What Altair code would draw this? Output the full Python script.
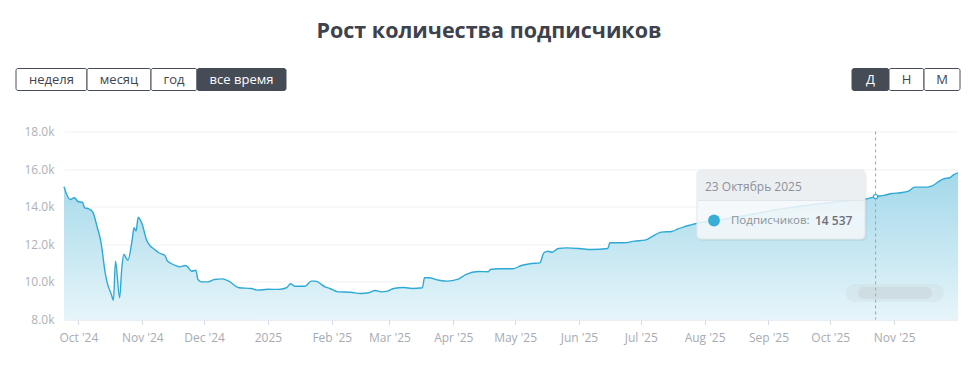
import altair as alt
import pandas as pd

# ---------------- data ----------------
dates = ["2024-09-24","2024-09-27","2024-09-29","2024-10-01","2024-10-03","2024-10-04","2024-10-06","2024-10-08",
         "2024-10-10","2024-10-12","2024-10-14","2024-10-15","2024-10-17","2024-10-18","2024-10-19","2024-10-21",
         "2024-10-22","2024-10-23","2024-10-25","2024-10-27","2024-10-28","2024-10-29","2024-10-30","2024-11-01",
         "2024-11-03","2024-11-04","2024-11-07","2024-11-09","2024-11-12","2024-11-13","2024-11-15","2024-11-18",
         "2024-11-19","2024-11-22","2024-11-23","2024-11-25","2024-11-27","2024-11-28","2024-11-30","2024-12-03",
         "2024-12-06","2024-12-10","2024-12-13","2024-12-18","2024-12-24","2024-12-27","2025-01-01","2025-01-06",
         "2025-01-10","2025-01-12","2025-01-14","2025-01-19","2025-01-22","2025-01-24","2025-01-29","2025-01-31",
         "2025-02-04","2025-02-10","2025-02-15","2025-02-19","2025-02-22","2025-02-25","2025-02-28","2025-03-03",
         "2025-03-08","2025-03-12","2025-03-17","2025-03-18","2025-03-20","2025-03-25","2025-03-29","2025-04-03",
         "2025-04-07","2025-04-13","2025-04-18","2025-04-19","2025-04-23","2025-04-30","2025-05-04","2025-05-09",
         "2025-05-13","2025-05-15","2025-05-17","2025-05-19","2025-05-22","2025-05-26","2025-06-01","2025-06-07",
         "2025-06-15","2025-06-16","2025-06-23","2025-06-28","2025-07-03","2025-07-06","2025-07-11","2025-07-16",
         "2025-07-19","2025-07-22","2025-07-26","2025-07-29","2025-08-03","2025-08-10","2025-08-20","2025-08-28",
         "2025-09-05","2025-09-12","2025-09-20","2025-09-28","2025-10-05","2025-10-12","2025-10-18","2025-10-23",
         "2025-10-27","2025-10-31","2025-11-04","2025-11-08","2025-11-11","2025-11-17","2025-11-19","2025-11-23",
         "2025-11-25","2025-11-28","2025-11-30","2025-12-02"]
subscribers = [15060,14380,14480,14260,14240,13940,13890,13710,
               12960,12080,10480,9950,9330,9030,11100,9150,
               10660,11460,11150,12170,12880,12700,13440,13050,
               12260,12040,11720,11550,11400,11150,10980,10840,
               10800,10870,10800,10570,10620,10130,10000,10000,
               10130,10160,10040,9690,9650,9560,9610,9600,
               9690,9900,9770,9770,10040,10040,9720,9650,
               9470,9450,9380,9420,9540,9470,9510,9650,
               9700,9650,9690,10220,10220,10090,10040,10130,
               10390,10550,10540,10660,10700,10700,10870,10980,
               11010,11550,11630,11580,11780,11810,11780,11720,
               11780,12080,12080,12170,12220,12380,12650,12680,
               12820,12930,13050,13140,13230,13330,13520,13680,
               13850,13950,14080,14180,14260,14340,14400,14537,
               14600,14700,14740,14830,15040,15040,15090,15360,
               15480,15540,15710,15800]

y_tick_values = [8000, 10000, 12000, 14000, 16000, 18000]
y_tick_labels = ["8.0k", "10.0k", "12.0k", "14.0k", "16.0k", "18.0k"]
x_tick_months = ["2024-10","2024-11","2024-12","2025-01","2025-02","2025-03","2025-04",
                 "2025-05","2025-06","2025-07","2025-08","2025-09","2025-10","2025-11"]
x_tick_labels = ["Oct '24","Nov '24","Dec '24","2025","Feb '25","Mar '25","Apr '25",
                 "May '25","Jun '25","Jul '25","Aug '25","Sep '25","Oct '25","Nov '25"]

title_text = "Рост количества подписчиков"
period_buttons = ["неделя", "месяц", "год", "все время"]
active_period = "все время"
scale_buttons = ["Д", "Н", "М"]
active_scale = "Д"

hover_date = "2025-10-23"
hover_value = 14537
tooltip_title = "23 Октябрь 2025"
tooltip_series = "Подписчиков:"
tooltip_value = "14 537"

x_domain = [(2024, 9, 24), (2025, 12, 2)]

# ---------------- layout ----------------
W, H = 894, 188
PAD = {"left": 56, "top": 123.5, "right": 7, "bottom": 40}
OX, OY = 8 + PAD["left"], 8 + PAD["top"]   # plot origin on the page

FONT = "Open Sans"
LINE_COLOR = "#2ea9d4"

df = pd.DataFrame({"date": dates, "subs": subscribers})
hover_df = pd.DataFrame({"date": [hover_date], "subs": [hover_value]})
one = pd.DataFrame({"k": [0]})

x_label_expr = "''"
for m, lab in reversed(list(zip(x_tick_months, x_tick_labels))):
    x_label_expr = f"utcFormat(datum.value, '%Y-%m') == '{m}' ? \"{lab}\" : " + x_label_expr
y_label_expr = "''"
for v, lab in reversed(list(zip(y_tick_values, y_tick_labels))):
    y_label_expr = f"datum.value == {v} ? '{lab}' : " + y_label_expr

x_values = [alt.DateTime(year=int(m[:4]), month=int(m[5:]), date=1, utc=True) for m in x_tick_months]
x_scale = alt.Scale(type="utc", domain=[alt.DateTime(year=a, month=b, date=c, utc=True) for a, b, c in x_domain])
y_scale = alt.Scale(domain=[y_tick_values[0], y_tick_values[-1]], nice=False, zero=False)

x_enc = alt.X("date:T", scale=x_scale, title=None,
              axis=alt.Axis(values=x_values, tickCount=len(x_values) + 2, labelExpr=x_label_expr,
                            grid=False, domainColor="#dfe8ee", tickColor="#d3dce6", tickSize=5,
                            labelColor="#a7abb2", labelFontSize=12, labelFont=FONT,
                            labelPadding=8, labelFlush=False, labelOverlap=False))
y_enc = alt.Y("subs:Q", scale=y_scale, title=None,
              axis=alt.Axis(values=y_tick_values, tickCount=len(y_tick_values) + 2,
                            labelExpr=y_label_expr, domain=False, ticks=False,
                            gridColor="#f1f1f1", labelColor="#aeb2b8", labelFontSize=12,
                            labelFont=FONT, labelPadding=10, labelOverlap=False))

gradient = alt.Gradient(gradient="linear",
                        stops=[alt.GradientStop(color="#e6f5fa", offset=0),
                               alt.GradientStop(color="#a3d8ea", offset=1)],
                        x1=1, x2=1, y1=1, y2=0)

area = alt.Chart(df).mark_area(interpolate="monotone", color=gradient).encode(
    x=x_enc, y=y_enc, y2=alt.datum(y_tick_values[0]))
line = alt.Chart(df).mark_line(interpolate="monotone", color=LINE_COLOR, strokeWidth=1.4).encode(
    x="date:T", y="subs:Q")

crosshair = alt.Chart(hover_df).mark_rule(color="#9da3a8", strokeDash=[3, 3], strokeWidth=1).encode(
    x="date:T", y=alt.value(0), y2=alt.value(H))
hover_pt = alt.Chart(hover_df).mark_point(filled=True, fill="white", stroke=LINE_COLOR, strokeWidth=1.2,
                                          size=18, opacity=1).encode(x="date:T", y="subs:Q")

layers = [area, line, crosshair, hover_pt]


def rect(x0, x1, y0, y1, **kw):
    return alt.Chart(one).mark_rect(**kw).encode(
        x=alt.value(x0 - OX), x2=alt.value(x1 - OX), y=alt.value(y0 - OY), y2=alt.value(y1 - OY))


def text(s, x, y, **kw):
    return alt.Chart(one).mark_text(**kw).encode(
        x=alt.value(x - OX), y=alt.value(y - OY), text=alt.value(s))


# blurred watermark
layers.append(rect(846, 944, 284, 302, color="#c4c6c8", opacity=0.18, cornerRadius=9))
layers.append(rect(858, 932, 287, 299, color="#b5b7b9", opacity=0.22, cornerRadius=6))

# tooltip
TX0, TX1, TY0, TYM, TY1 = 697, 865, 170, 201, 239
layers.append(rect(TX0 + 1, TX1 + 2, TY0 + 2, TY1 + 2, color="#000000", opacity=0.04, cornerRadius=4))
layers.append(rect(TX0, TX1, TY0, TY1, fill="#f6f9fb", fillOpacity=0.86, stroke="#e1e5e8",
                   strokeWidth=1, cornerRadius=4))
layers.append(rect(TX0 + 0.5, TX1 - 0.5, TY0 + 0.5, TYM, fill="#eceff2", cornerRadius=3))
layers.append(rect(TX0 + 0.5, TX1 - 0.5, TYM - 1, TYM, fill="#e2e6ea"))
layers.append(text(tooltip_title, TX0 + 8, 186.5, align="left", baseline="middle", font=FONT,
                   fontSize=12, color="#8c9198"))
layers.append(alt.Chart(one).mark_point(filled=True, color="#36aed8", size=140, opacity=1).encode(
    x=alt.value(714 - OX), y=alt.value(220.5 - OY)))
layers.append(text(tooltip_series, 731, 220.5, align="left", baseline="middle", font=FONT,
                   fontSize=11.5, color="#8c9198"))
layers.append(text(tooltip_value, 815, 220.5, align="left", baseline="middle", font=FONT,
                   fontSize=12, fontWeight=600, color="#6c7179"))

# buttons
BY0, BY1 = 68.5, 90.5
DARK = "#464c56"
period_edges = [16, 87, 151, 197, 286]
scale_edges = [852, 889, 924, 960]
for labels, edges, active in [(period_buttons, period_edges, active_period),
                              (scale_buttons, scale_edges, active_scale)]:
    for i, lab in enumerate(labels):
        on = lab == active
        layers.append(rect(edges[i], edges[i + 1], BY0, BY1, fill=DARK if on else "white",
                           stroke=DARK, strokeWidth=1, cornerRadius=2))
    for i, lab in enumerate(labels):
        on = lab == active
        layers.append(text(lab, (edges[i] + edges[i + 1]) / 2, (BY0 + BY1) / 2 + 0.5, align="center",
                           baseline="middle", font=FONT, fontSize=13,
                           color="white" if on else "#3f4550"))

# title
layers.append(text(title_text, 489, 31.5, align="center", baseline="middle", font=FONT,
                   fontSize=21.5, fontWeight="bold", color="#3d424c"))

chart = alt.layer(*layers).properties(
    width=W, height=H, padding=PAD,
    autosize=alt.AutoSizeParams(type="none"),
    background="white",
).configure_view(stroke="transparent")

chart.save("out.html", embed_options={"renderer": "svg", "actions": False})
